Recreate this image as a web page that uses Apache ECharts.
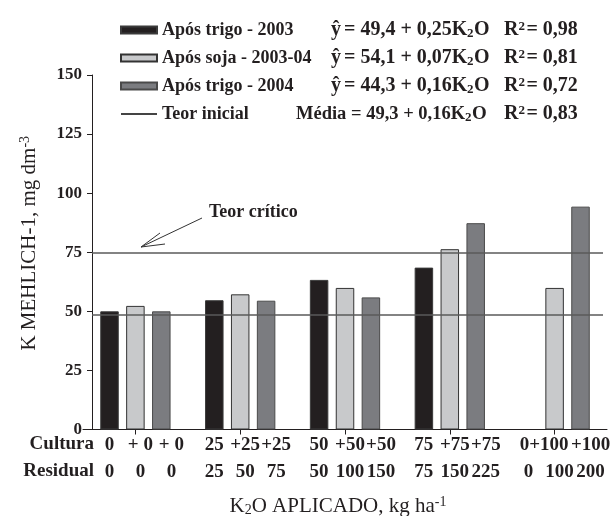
<!DOCTYPE html>
<html>
<head>
<meta charset="utf-8">
<script src="https://cdn.jsdelivr.net/npm/echarts@6/dist/echarts.min.js"></script>
<style>html,body{margin:0;padding:0;background:#fff}#c{width:611px;height:516px}</style>
</head>
<body>
<div id="c"></div>
<script>
// ---- data ----
const categories = ['0', '25', '50', '75', '100'];
const trigo2003 = [50.0, 54.7, 63.3, 68.5, null];
const soja2003 = [52.3, 57.2, 59.9, 76.3, 59.9];
const trigo2004 = [50.0, 54.5, 55.9, 87.3, 94.3];
const teorInicial = 48.4;
const teorCritico = 75;
const culturaLabels = [['0', '+ 0', '+ 0'], ['25', '+25', '+25'], ['50', '+50', '+50'], ['75', '+75', '+75'], ['0+100', '+100']];
const residualLabels = [['0', '0', '0'], ['25', '50', '75'], ['50', '100', '150'], ['75', '150', '225'], ['0', '100', '200']];
const seriesNames = ['Após trigo - 2003', 'Após soja - 2003-04', 'Após trigo - 2004', 'Teor inicial'];
const eqLeft = ['ŷ', 'ŷ', 'ŷ', 'Média'];
const eqRight = ['= 49,4 + 0,25K', '= 54,1 + 0,07K', '= 44,3 + 0,16K', '= 49,3 + 0,16K'];
const r2Values = ['0,98', '0,81', '0,72', '0,83'];
const yTicks = { min: 0, max: 150, interval: 25 };

// ---- chart ----
const SERIF = '"Liberation Serif", "Times New Roman", serif';
const INK = '#231f20';
const chart = echarts.init(document.getElementById('c'), null, { renderer: 'canvas' });

function tok(size, extra) {
  return Object.assign({ fontFamily: SERIF, fontWeight: 'bold', fontSize: size, color: INK, lineHeight: 20 }, extra || {});
}
const legendRich = {
  n: tok(18, { width: 169 }),
  n4: tok(18, { width: 134 }),
  y: tok(20, { width: 13 }),
  e: tok(20, { width: 123 }),
  e4: tok(18.5, { width: 169 }),
  s: tok(13, { width: 7, lineHeight: 12, verticalAlign: 'bottom' }),
  o: tok(20, { width: 30 }),
  o4: tok(19, { width: 32 }),
  r: tok(20),
  p: tok(13, { width: 8, lineHeight: 12, verticalAlign: 'top' })
};

const xRich = {
  p: { width: 10 },
  t: { fontFamily: SERIF, fontWeight: 'bold', fontSize: 19, color: INK, width: 31, align: 'center', lineHeight: 27 },
  w: { fontFamily: SERIF, fontWeight: 'bold', fontSize: 19, color: INK, width: 62, align: 'center', lineHeight: 27 }
};

const option = {
  animation: false,
  backgroundColor: '#fff',
  grid: { left: 83, right: 4, top: 75, bottom: 86.5, containLabel: false, outerBoundsMode: 'none' },
  legend: {
    orient: 'vertical', left: 115, top: 15,
    itemWidth: 36, itemHeight: 7, itemGap: 8, itemTextGap: 12,
    selectedMode: false,
    data: [
      { name: seriesNames[0], icon: 'rect' },
      { name: seriesNames[1], icon: 'rect' },
      { name: seriesNames[2], icon: 'rect' },
      { name: seriesNames[3], itemStyle: { opacity: 0 } }
    ],
    textStyle: { fontFamily: SERIF, fontWeight: 'bold', fontSize: 18, color: INK, lineHeight: 20, rich: legendRich },
    formatter: function (name) {
      const i = seriesNames.indexOf(name);
      const last = i === 3;
      let s = '{' + (last ? 'n4' : 'n') + '|' + name + '}';
      s += last ? '{e4|' + eqLeft[i] + ' ' + eqRight[i] + '}' : '{y|' + eqLeft[i] + '}{e|' + eqRight[i] + '}';
      s += '{s|2}{' + (last ? 'o4' : 'o') + '|O}{r|R}{p|2}{r|= ' + r2Values[i] + '}';
      return s;
    }
  },
  xAxis: {
    type: 'category',
    data: categories,
    axisLine: { show: true, lineStyle: { color: INK, width: 1 } },
    axisTick: { show: true, alignWithLabel: true, length: 5, lineStyle: { color: INK } },
    axisLabel: {
      margin: 2,
      interval: 0,
      rich: xRich,
      formatter: function (v, i) {
        const c = culturaLabels[i];
        let row1 = '{p| }';
        if (c.length === 2) row1 += '{w|' + c[0] + '}{t|' + c[1] + '}';
        else row1 += c.map(s => '{t|' + s + '}').join('');
        const row2 = '{p| }' + residualLabels[i].map(s => '{t|' + s + '}').join('');
        return row1 + '\n' + row2;
      }
    },
    name: 'K{sub|2}O APLICADO, kg ha{sup|-1}',
    nameLocation: 'middle',
    nameGap: 66,
    nameMoveOverlap: false,
    nameTextStyle: {
      fontFamily: SERIF, fontSize: 21, color: INK, padding: [0, 14, 0, 0], lineHeight: 22,
      rich: {
        sub: { fontFamily: SERIF, fontSize: 14, color: INK, lineHeight: 14, verticalAlign: 'bottom' },
        sup: { fontFamily: SERIF, fontSize: 14, color: INK, lineHeight: 14, verticalAlign: 'top' }
      }
    }
  },
  yAxis: {
    type: 'value',
    min: yTicks.min, max: yTicks.max, interval: yTicks.interval,
    offset: -9,
    splitLine: { show: false },
    axisLine: { show: true, lineStyle: { color: INK, width: 1 } },
    axisTick: { show: true, length: 5, lineStyle: { color: INK } },
    axisLabel: { margin: 10, fontFamily: SERIF, fontWeight: 'bold', fontSize: 17, color: INK },
    name: 'K MEHLICH-1, mg dm{sup|-3}',
    nameLocation: 'middle',
    nameRotate: 90,
    nameGap: 52,
    nameMoveOverlap: false,
    nameTextStyle: {
      fontFamily: SERIF, fontSize: 21, color: INK, padding: [0, 0, 0, 18], lineHeight: 22,
      rich: {
        sup: { fontFamily: SERIF, fontSize: 14, color: INK, lineHeight: 14, verticalAlign: 'top' }
      }
    }
  },
  series: [
    {
      name: seriesNames[0], type: 'bar', data: trigo2003, barWidth: 18.5, barGap: '40%',
      itemStyle: { color: '#231f20', borderColor: '#3a3a3a', borderWidth: 1 }
    },
    {
      name: seriesNames[1], type: 'bar', data: soja2003, barWidth: 18.5, barGap: '40%',
      itemStyle: { color: '#c8c9cb', borderColor: '#333', borderWidth: 1 }
    },
    {
      name: seriesNames[2], type: 'bar', data: trigo2004, barWidth: 18.5, barGap: '40%',
      itemStyle: { color: '#7b7c80', borderColor: '#4a4a4a', borderWidth: 1 }
    },
    {
      name: seriesNames[3], type: 'line', data: categories.map(() => null),
      symbol: 'none', silent: true,
      lineStyle: { color: '#444', width: 1 },
      itemStyle: { color: '#444', opacity: 0 },
      markLine: {
        silent: true, symbol: 'none', label: { show: false },
        lineStyle: { color: '#5a5a5a', width: 1.5, type: 'solid', opacity: 1 },
        data: [
          [{ x: 92, yAxis: teorCritico }, { x: 603, yAxis: teorCritico }],
          [{ x: 92, yAxis: teorInicial }, { x: 603, yAxis: teorInicial }]
        ]
      }
    }
  ],
  graphic: [
    { type: 'text', right: 611 - 94, top: 435, style: { text: 'Cultura', font: 'bold 19px ' + SERIF, fill: INK, align: 'right' } },
    { type: 'text', right: 611 - 94, top: 462, style: { text: 'Residual', font: 'bold 19px ' + SERIF, fill: INK, align: 'right' } },
    { type: 'text', left: 209, top: 203, style: { text: 'Teor crítico', font: 'bold 18px ' + SERIF, fill: INK } },
    { type: 'line', shape: { x1: 202, y1: 218, x2: 141, y2: 247 }, style: { stroke: '#333', lineWidth: 1 } },
    { type: 'line', shape: { x1: 141, y1: 247, x2: 160, y2: 233 }, style: { stroke: '#333', lineWidth: 1 } },
    { type: 'line', shape: { x1: 141, y1: 247, x2: 165, y2: 244 }, style: { stroke: '#333', lineWidth: 1 } }
  ]
};
chart.setOption(option);
</script>
</body>
</html>
